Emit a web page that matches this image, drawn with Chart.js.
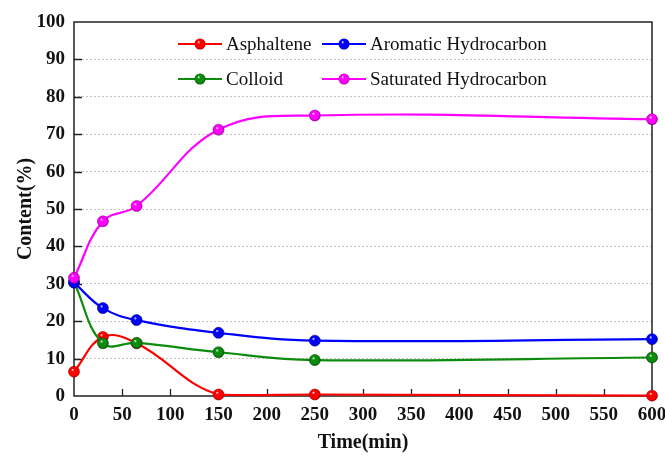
<!DOCTYPE html>
<html>
<head>
<meta charset="utf-8">
<script src="https://cdn.jsdelivr.net/npm/chart.js@4.4.1/dist/chart.umd.min.js"></script>
<style>
    html, body { margin: 0; padding: 0; background: #fff; }
    #wrap { width: 665px; height: 457px; }
</style>
</head>
<body>
<div id="wrap"><canvas id="chart"></canvas></div>
<script>
// ========== DATA ==========
const times = [0, 30, 65, 150, 250, 600];
const asphaltene = [6.5, 15.8, 14.1, 0.4, 0.4, 0.1];
const aromatic = [30.3, 23.5, 20.3, 16.9, 14.8, 15.2];
const colloid = [30.5, 14.1, 14.2, 11.7, 9.6, 10.3];
const saturated = [31.6, 46.7, 50.8, 71.2, 75.0, 74.0];
const xTicks = [0, 50, 100, 150, 200, 250, 300, 350, 400, 450, 500, 550, 600];
const yTicks = [0, 10, 20, 30, 40, 50, 60, 70, 80, 90, 100];

const SERIF = "'Liberation Serif', 'Times New Roman', serif";

function toPoints(values) {
    return times.map((t, i) => ({ x: t, y: values[i] }));
}

// shaded ball marker like the original plot
function sphere(ctx, x, y, r, color, dark) {
    const g = ctx.createRadialGradient(x - r * 0.3, y - r * 0.4, 0, x, y, r);
    g.addColorStop(0, '#ffffff');
    g.addColorStop(0.3, color);
    g.addColorStop(0.8, color);
    g.addColorStop(1, dark);
    return g;
}

function ballFill(color, dark) {
    return (c) => {
        if (c.type !== 'data' || !c.parsed) return color;
        const ch = c.chart;
        if (!ch.scales.x || !ch.scales.y) return color;
        const x = ch.scales.x.getPixelForValue(c.parsed.x);
        const y = ch.scales.y.getPixelForValue(c.parsed.y);
        if (!isFinite(x) || !isFinite(y)) return color;
        return sphere(ch.ctx, x, y, 5.5, color, dark);
    };
}

function series(label, values, color, dark, order) {
    return {
        label: label,
        data: toPoints(values),
        borderColor: color,
        borderWidth: 2.2,
        tension: 0.4,
        pointRadius: 5.5,
        pointBorderWidth: 0.6,
        pointBorderColor: dark,
        pointBackgroundColor: ballFill(color, dark),
        legendColor: color,
        legendDark: dark,
        order: order,
        clip: false
    };
}

// frame + inward ticks + custom two-column legend
const framePlugin = {
    id: 'frame',
    beforeDatasetsDraw(chart) {
        const { ctx, chartArea: a, scales } = chart;
        ctx.save();
        ctx.strokeStyle = '#222';
        ctx.lineWidth = 1.5;
        ctx.strokeRect(a.left, a.top, a.right - a.left, a.bottom - a.top);
        ctx.lineWidth = 1.3;
        ctx.beginPath();
        xTicks.slice(1, -1).forEach(v => {
            const px = Math.round(scales.x.getPixelForValue(v)) + 0.5;
            ctx.moveTo(px, a.bottom);
            ctx.lineTo(px, a.bottom - 7);
        });
        yTicks.slice(1, -1).forEach(v => {
            const py = Math.round(scales.y.getPixelForValue(v)) + 0.5;
            ctx.moveTo(a.left, py);
            ctx.lineTo(a.left + 8, py);
        });
        ctx.stroke();
        ctx.restore();
    },
    afterDraw(chart) {
        const { ctx } = chart;
        const ds = chart.data.datasets;
        const slots = [
            { x: 178, y: 44 }, { x: 322, y: 44 },
            { x: 178, y: 79 }, { x: 322, y: 79 }
        ];
        ctx.save();
        ds.forEach((d, i) => {
            const s = slots[i];
            ctx.strokeStyle = d.legendColor;
            ctx.lineWidth = 2.2;
            ctx.beginPath();
            ctx.moveTo(s.x, s.y);
            ctx.lineTo(s.x + 44, s.y);
            ctx.stroke();
            ctx.beginPath();
            ctx.arc(s.x + 22, s.y, 5.5, 0, Math.PI * 2);
            ctx.fillStyle = sphere(ctx, s.x + 22, s.y, 5.5, d.legendColor, d.legendDark);
            ctx.fill();
            ctx.fillStyle = '#111';
            ctx.font = '19px ' + SERIF;
            ctx.textBaseline = 'middle';
            ctx.fillText(d.label, s.x + 48, s.y + 1);
        });
        ctx.restore();
    }
};

const chart = new Chart(document.getElementById('chart'), {
    type: 'line',
    data: {
        datasets: [
            series('Asphaltene', asphaltene, '#ff0000', '#b00000', 3),
            series('Aromatic Hydrocarbon', aromatic, '#0000ff', '#0000a0', 1),
            series('Colloid', colloid, '#0c8c0c', '#055005', 2),
            series('Saturated Hydrocarbon', saturated, '#ff00ff', '#a000a0', 0)
        ]
    },
    options: {
        responsive: true,
        maintainAspectRatio: false,
        animation: false,
        events: [],
        layout: { padding: { left: 0, right: 13, top: 22, bottom: 0 } },
        plugins: {
            legend: { display: false },
            tooltip: { enabled: false }
        },
        scales: {
            x: {
                type: 'linear',
                min: 0,
                max: 600,
                afterBuildTicks: (s) => { s.ticks = xTicks.map(v => ({ value: v })); },
                afterFit: (s) => { s.height = 61; s.paddingLeft = 0; s.paddingRight = 0; },
                grid: { display: false, drawTicks: false },
                border: { display: false },
                ticks: {
                    color: '#111',
                    padding: 8,
                    maxRotation: 0,
                    autoSkip: false,
                    font: { family: SERIF, size: 19, weight: 'bold' }
                },
                title: {
                    display: true,
                    text: 'Time(min)',
                    color: '#111',
                    padding: { top: 0, bottom: 2 },
                    font: { family: SERIF, size: 20, weight: 'bold' }
                }
            },
            y: {
                min: 0,
                max: 100,
                afterBuildTicks: (s) => { s.ticks = yTicks.map(v => ({ value: v })); },
                afterFit: (s) => { s.width = 74; s.paddingTop = 0; s.paddingBottom = 0; },
                grid: {
                    drawTicks: false,
                    color: (c) => (c.tick && (c.tick.value === 0 || c.tick.value === 100)) ? 'rgba(0,0,0,0)' : '#c4c4c4',
                    lineWidth: 1
                },
                border: { display: false, dash: [2, 2] },
                ticks: {
                    color: '#111',
                    padding: 9,
                    autoSkip: false,
                    font: { family: SERIF, size: 19, weight: 'bold' }
                },
                title: {
                    display: true,
                    text: 'Content(%)',
                    color: '#111',
                    padding: { top: 14, bottom: 0 },
                    font: { family: SERIF, size: 20, weight: 'bold' }
                }
            }
        }
    },
    plugins: [framePlugin]
});
</script>
</body>
</html>
